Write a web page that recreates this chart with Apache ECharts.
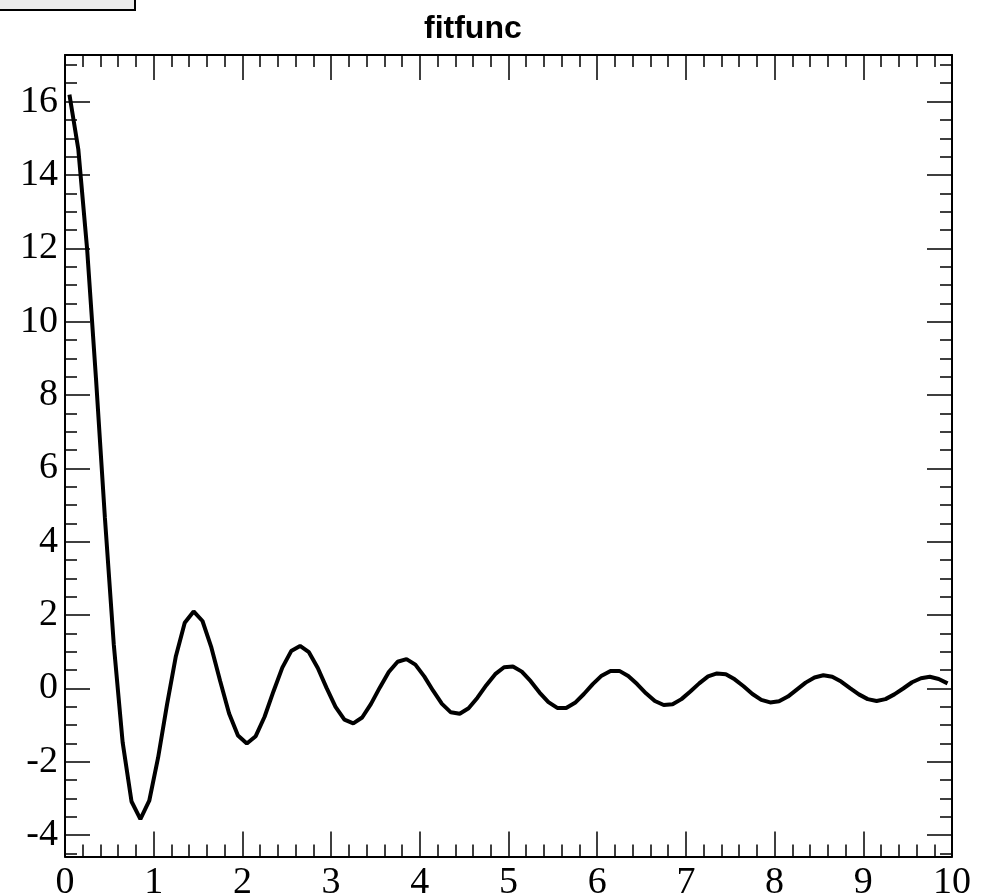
<!DOCTYPE html>
<html>
<head>
<meta charset="utf-8">
<script src="https://cdn.jsdelivr.net/npm/echarts@6/dist/echarts.min.js"></script>
<style>
html,body{margin:0;padding:0;background:#fff;}
#chart{width:990px;height:893px;}
</style>
</head>
<body>
<div id="chart"></div>
<script>
// x positions of the sampled curve (bin centres)
const xValues = [0.05,0.15,0.25,0.35,0.45,0.55,0.65,0.75,0.85,0.95,
1.05,1.15,1.25,1.35,1.45,1.55,1.65,1.75,1.85,1.95,
2.05,2.15,2.25,2.35,2.45,2.55,2.65,2.75,2.85,2.95,
3.05,3.15,3.25,3.35,3.45,3.55,3.65,3.75,3.85,3.95,
4.05,4.15,4.25,4.35,4.45,4.55,4.65,4.75,4.85,4.95,
5.05,5.15,5.25,5.35,5.45,5.55,5.65,5.75,5.85,5.95,
6.05,6.15,6.25,6.35,6.45,6.55,6.65,6.75,6.85,6.95,
7.05,7.15,7.25,7.35,7.45,7.55,7.65,7.75,7.85,7.95,
8.05,8.15,8.25,8.35,8.45,8.55,8.65,8.75,8.85,8.95,
9.05,9.15,9.25,9.35,9.45,9.55,9.65,9.75,9.85,9.95];
// curve values
const yValues = [16.19,14.70,11.96,8.43,4.65,1.20,-1.47,-3.08,-3.56,-3.06,
-1.88,-0.44,0.88,1.79,2.10,1.84,1.12,0.20,-0.68,-1.28,
-1.50,-1.30,-0.77,-0.08,0.57,1.02,1.16,0.99,0.56,0.01,
-0.50,-0.85,-0.95,-0.79,-0.42,0.03,0.45,0.73,0.80,0.65,
0.33,-0.06,-0.42,-0.65,-0.69,-0.54,-0.25,0.09,0.39,0.58,
0.60,0.46,0.20,-0.11,-0.37,-0.53,-0.53,-0.39,-0.15,0.12,
0.35,0.48,0.48,0.34,0.12,-0.13,-0.34,-0.45,-0.43,-0.29,
-0.08,0.14,0.33,0.41,0.39,0.25,0.06,-0.15,-0.31,-0.38,
-0.35,-0.22,-0.03,0.16,0.30,0.36,0.32,0.19,0.01,-0.16,
-0.29,-0.34,-0.29,-0.16,0.00,0.17,0.28,0.32,0.26,0.14];
const xTickLabels = ['0','1','2','3','4','5','6','7','8','9','10'];
const yTickLabels = ['-4','-2','0','2','4','6','8','10','12','14','16'];
const chartTitle = 'fitfunc';

const X_MIN = 0, X_MAX = 10;
const Y_MIN = -4.58, Y_MAX = 17.27;

const points = xValues.map((x, i) => [x, yValues[i]]);

const labelFont = {fontFamily: 'Liberation Serif', fontSize: 38, color: '#000'};

function xAx(pos, interval, len, labels, line) {
  return {
    type: 'value', position: pos, min: X_MIN, max: X_MAX, interval: interval,
    axisLine: {show: line, onZero: false, lineStyle: {color: '#000', width: 2}},
    axisTick: {show: true, inside: true, length: len, lineStyle: {color: '#000', width: 1.5}},
    axisLabel: labels ? Object.assign({show: true, margin: 8,
      formatter: v => { const k = Math.round(v); return Math.abs(v - k) < 1e-6 ? xTickLabels[k] : ''; }}, labelFont) : {show: false},
    splitLine: {show: false}
  };
}
function yAx(pos, step, len, labels, line) {
  return {
    type: 'value', position: pos, min: Y_MIN, max: Y_MAX,
    minInterval: step, maxInterval: step, splitNumber: Math.round((Y_MAX - Y_MIN) / step),
    axisLine: {show: line, onZero: false, lineStyle: {color: '#000', width: 2}},
    axisTick: {show: true, inside: true, length: len, lineStyle: {color: '#000', width: 1.5}},
    axisLabel: labels ? Object.assign({show: true, margin: 7, showMinLabel: false, showMaxLabel: false,
      formatter: v => { const k = Math.round((v + 4) / 2); return (Math.abs(v - (k*2 - 4)) < 1e-6 && k >= 0 && k < yTickLabels.length) ? yTickLabels[k] : ''; }}, labelFont) : {show: false},
    splitLine: {show: false}
  };
}

const chart = echarts.init(document.getElementById('chart'), null, {renderer: 'canvas'});
chart.setOption({
  animation: false,
  backgroundColor: '#fff',
  title: {text: chartTitle, left: 419, top: 8,
    textStyle: {fontFamily: 'Liberation Sans', fontWeight: 'bold', fontSize: 32, color: '#000'}},
  grid: {left: 65, right: 38, top: 55, bottom: 36.5, containLabel: false, outerBoundsMode: 'none'},
  xAxis: [xAx('bottom', 1, 25, true, true), xAx('bottom', 0.2, 12, false, false),
          xAx('top', 1, 25, false, true), xAx('top', 0.2, 12, false, false)],
  yAxis: [yAx('left', 2, 25, true, true), yAx('left', 0.5, 12, false, false),
          yAx('right', 2, 25, false, true), yAx('right', 0.5, 12, false, false)],
  graphic: [{type: 'rect', shape: {x: -2, y: -2, width: 137, height: 12},
    style: {fill: '#ebebeb', stroke: '#000', lineWidth: 2}}],
  series: [{
    type: 'line', xAxisIndex: 0, yAxisIndex: 0, data: points,
    showSymbol: false, symbol: 'none', smooth: false, clip: true,
    lineStyle: {color: '#000', width: 4}
  }]
});
</script>
</body>
</html>
